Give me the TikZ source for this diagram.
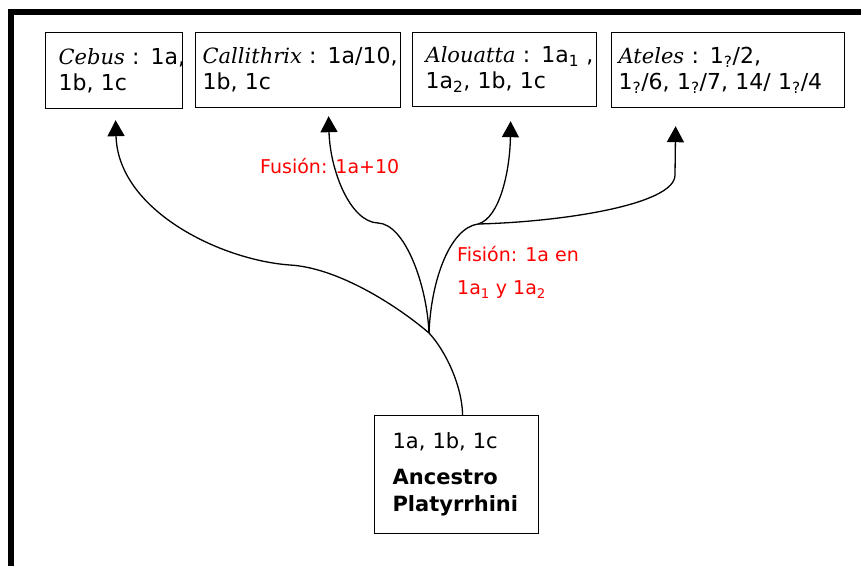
\documentclass[tikz,border=0pt]{standalone}
\usepackage{fontspec}
\setmainfont{DejaVu Sans}
\newfontfamily\genus{DejaVu Serif}
\newcommand{\gn}[1]{{\genus\itshape\fontsize{21}{26}\selectfont #1}}
\usetikzlibrary{arrows.meta}
\begin{document}
\begin{tikzpicture}[x=1pt,y=-1pt,
  box/.style={draw, line width=1.2pt, anchor=north west, align=left, inner ysep=0pt,
    font=\fontsize{22}{26}\selectfont},
  link/.style={line width=1.3pt},
  arr/.style={link, -{Triangle[width=17pt,length=16pt]}},
  note/.style={text=red, align=left, inner sep=0pt, font=\fontsize{19}{33}\selectfont}
]
\useasboundingbox (0,0) rectangle (861,566);
\fill[white] (0,0) rectangle (861,566);
\draw[line width=6pt] (11,566) -- (11,12) -- (861,12);

\node[box, minimum width=137pt, minimum height=76pt, text width=111pt, inner xsep=13pt] (cebus) at (45,32)
  {\mbox{\gn{Cebus} : 1a,}\\\mbox{1b, 1c}};
\node[box, minimum width=205pt, minimum height=75pt, text width=191pt, inner xsep=7pt] (calli) at (195,32)
  {\mbox{\gn{Callithrix} : 1a/10,}\\\mbox{1b, 1c}};
\node[box, minimum width=184pt, minimum height=74pt, text width=158pt, inner xsep=13pt] (alou) at (412,32)
  {\mbox{\gn{Alouatta} : 1a\textsubscript{1} ,}\\\mbox{1a\textsubscript{2}, 1b, 1c}};
\node[box, minimum width=233pt, minimum height=75pt, text width=219pt, inner xsep=7pt] (ateles) at (611,32)
  {\mbox{\gn{Ateles} : 1\textsubscript{?}/2,}\\\mbox{1\textsubscript{?}/6, 1\textsubscript{?}/7, 14/ 1\textsubscript{?}/4}};
\node[box, minimum width=164pt, minimum height=118pt, text width=128pt, inner xsep=18pt,
  font=\fontsize{21}{27}\selectfont] (anc) at (374,415)
  {1a, 1b, 1c\\[9pt]\textbf{Ancestro}\\\textbf{Platyrrhini}};

\coordinate (J) at (429,333);
\coordinate (K) at (478,224);

\draw[arr] ([xshift=6pt]anc.north) .. controls (462,385) and (445,350) .. (J)
  .. controls (400,308) and (340,268) .. (290,265)
  .. controls (220,260) and (118,210) .. ([xshift=1.5pt,yshift=-11pt]cebus.south);
\draw[arr] (J) .. controls (427,285) and (405,224) .. (378,223)
  .. controls (350,222) and (330,170) .. ([xshift=30.5pt,yshift=-8pt]calli.south);
\draw[arr] (J) .. controls (431,280) and (450,228) .. (K)
  .. controls (500,218) and (510,170) .. ([xshift=6pt,yshift=-14pt]alou.south);
\draw[arr] (K) .. controls (560,222) and (675,205) .. (675,175)
  -- ([xshift=-52.5pt,yshift=-18pt]ateles.south);

\node[note, anchor=base west] (fus) at (260,173) {Fusión: 1a+10};
\node[note, anchor=north west] (fis) at (457,246) {Fisión: 1a en\\1a\textsubscript{1} y 1a\textsubscript{2}};
\end{tikzpicture}
\end{document}
